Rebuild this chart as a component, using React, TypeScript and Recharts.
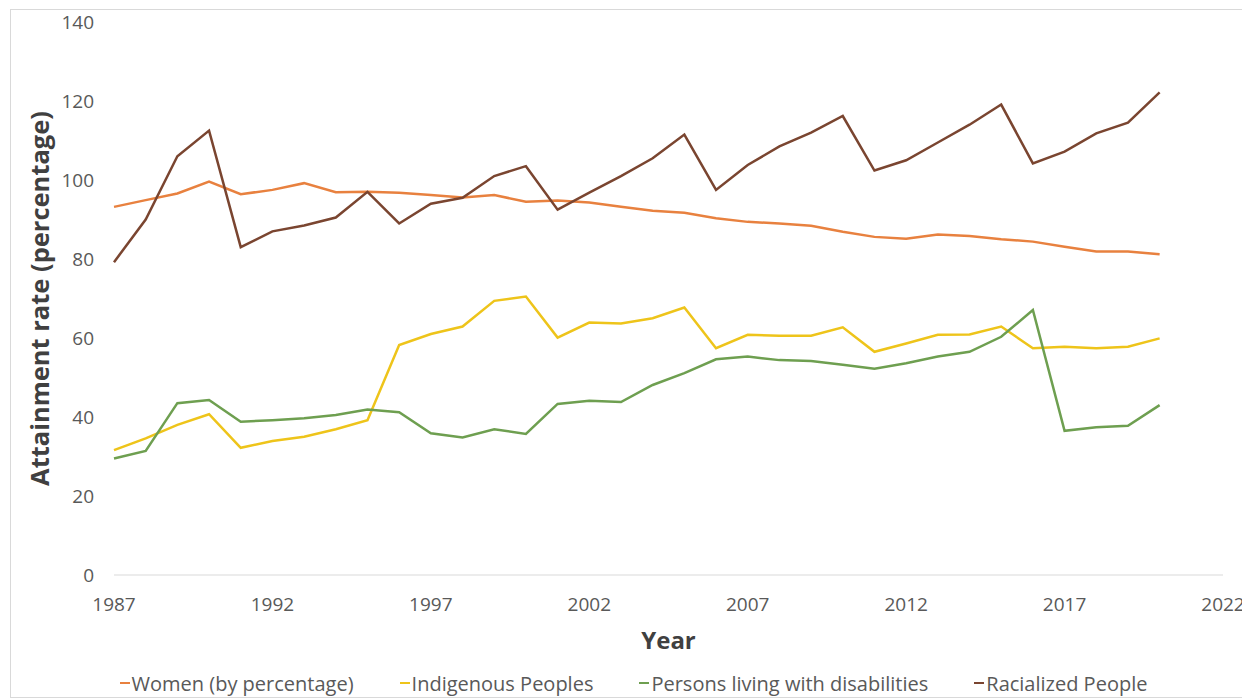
import { LineChart, Line, XAxis, YAxis, Legend, Label } from 'recharts';

const years = [
  1987, 1988, 1989, 1990, 1991, 1992, 1993, 1994, 1995, 1996, 1997, 1998, 1999, 2000, 2001, 2002, 2003,
  2004, 2005, 2006, 2007, 2008, 2009, 2010, 2011, 2012, 2013, 2014, 2015, 2016, 2017, 2018, 2019, 2020,
];

const women = [
  93.2, 94.9, 96.6, 99.6, 96.4, 97.5, 99.2, 96.9, 97.0, 96.8, 96.2, 95.6, 96.2, 94.5, 94.8, 94.3, 93.2,
  92.2, 91.7, 90.3, 89.4, 89.0, 88.4, 86.9, 85.6, 85.1, 86.2, 85.8, 85.0, 84.4, 83.1, 81.9, 81.9, 81.2,
];

const indigenous = [
  31.6, 34.6, 38.0, 40.7, 32.2, 33.9, 35.0, 36.9, 39.2, 58.2, 61.0, 62.9, 69.4, 70.5, 60.1, 63.9, 63.7,
  65.0, 67.7, 57.4, 60.8, 60.6, 60.6, 62.7, 56.5, 58.6, 60.8, 60.9, 62.9, 57.4, 57.8, 57.4, 57.8, 59.9,
];

const disabilities = [
  29.5, 31.4, 43.5, 44.3, 38.8, 39.2, 39.7, 40.5, 41.9, 41.2, 35.9, 34.8, 36.9, 35.7, 43.3, 44.1, 43.8,
  48.1, 51.1, 54.6, 55.3, 54.4, 54.2, 53.2, 52.2, 53.6, 55.3, 56.5, 60.3, 67.1, 36.5, 37.4, 37.8, 43.0,
];

const racialized = [
  79.2, 90.0, 106.0, 112.5, 83.0, 87.0, 88.5, 90.5, 97.0, 89.0, 94.0, 95.5, 101.0, 103.5, 92.5, 96.8, 101.0,
  105.5, 111.5, 97.5, 103.8, 108.5, 112.0, 116.2, 102.4, 105.0, 109.5, 114.0, 119.1, 104.2, 107.2, 111.8, 114.5, 122.2,
];

const xTicks = [1987, 1992, 1997, 2002, 2007, 2012, 2017, 2022];
const yTicks = [0, 20, 40, 60, 80, 100, 120, 140];

const data = years.map((year, i) => ({
  year,
  women: women[i],
  indigenous: indigenous[i],
  disabilities: disabilities[i],
  racialized: racialized[i],
}));

const series = [
  { key: 'women', name: 'Women (by percentage)', color: '#E8813F' },
  { key: 'indigenous', name: 'Indigenous Peoples', color: '#EEC41A' },
  { key: 'disabilities', name: 'Persons living with disabilities', color: '#6E9F50' },
  { key: 'racialized', name: 'Racialized People', color: '#7A4530' },
];

const FONT = '"Open Sans", "Noto Sans", sans-serif';

function LegendContent() {
  return (
    <div
      style={{
        display: 'flex',
        justifyContent: 'center',
        gap: 46,
        height: 26,
        alignItems: 'center',
        fontFamily: FONT,
        fontSize: 20,
        color: '#595959',
        paddingLeft: 9,
      }}
    >
      {series.map((s) => (
        <span key={s.key} style={{ display: 'flex', alignItems: 'center' }}>
          <span style={{ width: 10, height: 2, background: s.color, marginRight: 2 }} />
          {s.name}
        </span>
      ))}
    </div>
  );
}

export default function App() {
  return (
    <div style={{ position: 'relative', width: 1242, height: 692, fontFamily: FONT }}>
      <div
        style={{
          position: 'absolute',
          left: 2,
          top: 1,
          width: 1235,
          height: 689,
          border: '1px solid #d9d9d9',
          boxSizing: 'border-box',
        }}
      />
      <LineChart
        width={1242}
        height={692}
        data={data}
        margin={{ top: 14, right: 27, left: 0, bottom: 19 }}
        style={{ position: 'absolute', left: 0, top: 0 }}
      >
        <XAxis
          dataKey="year"
          type="number"
          domain={[1987, 2022]}
          ticks={xTicks}
          height={80}
          tickLine={false}
          axisLine={{ stroke: '#d9d9d9' }}
          tickMargin={17}
          tick={{ fill: '#595959', fontSize: 19, fontFamily: FONT }}
        >
          <Label
            value="Year"
            position="insideBottom"
            offset={6}
            style={{ fill: '#404040', fontSize: 24, fontWeight: 700, fontFamily: FONT }}
          />
        </XAxis>
        <YAxis
          domain={[0, 140]}
          ticks={yTicks}
          width={106}
          tickLine={false}
          axisLine={false}
          tickMargin={14}
          tick={{ fill: '#595959', fontSize: 19, fontFamily: FONT }}
        >
          <Label
            value="Attainment rate (percentage)"
            angle={-90}
            position="insideLeft"
            offset={32}
            style={{ fill: '#404040', fontSize: 25.5, fontWeight: 700, fontFamily: FONT, textAnchor: 'middle' }}
          />
        </YAxis>
        <Legend content={<LegendContent />} wrapperStyle={{ top: 662, left: 0, width: 1242 }} />
        {series.map((s) => (
          <Line
            key={s.key}
            type="linear"
            dataKey={s.key}
            name={s.name}
            stroke={s.color}
            strokeWidth={2.5}
            dot={false}
            isAnimationActive={false}
          />
        ))}
      </LineChart>
    </div>
  );
}
